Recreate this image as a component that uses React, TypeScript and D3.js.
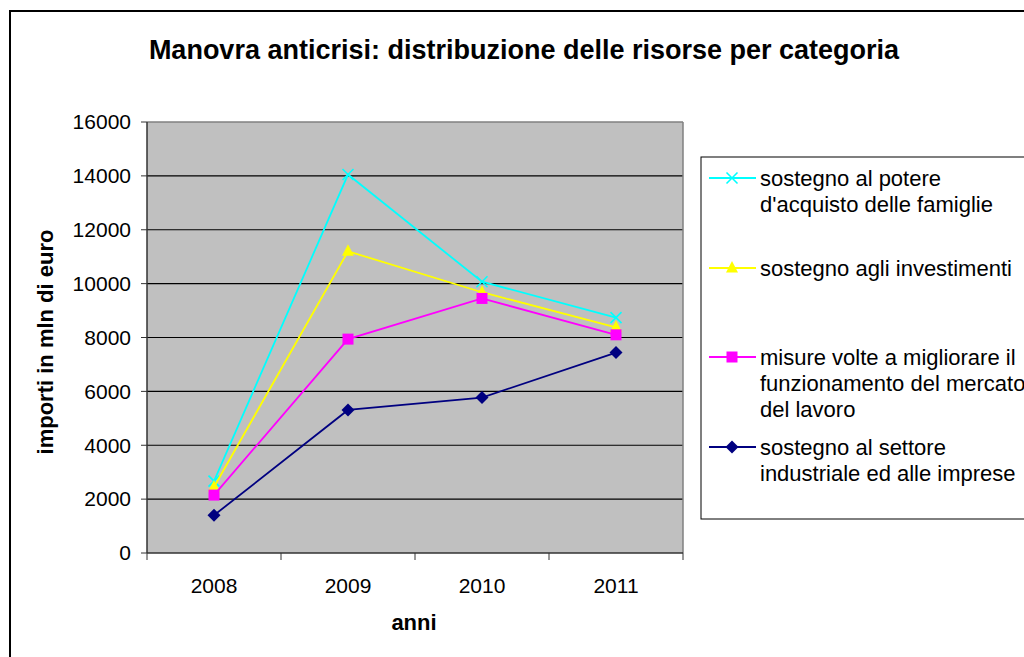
import React from "react";
import * as d3 from "d3";

const years = ["2008", "2009", "2010", "2011"];
const famiglie = [2670, 14050, 10070, 8740];
const investimenti = [2450, 11200, 9680, 8380];
const lavoro = [2150, 7940, 9450, 8100];
const industria = [1400, 5310, 5770, 7440];
const yTicks = [0, 2000, 4000, 6000, 8000, 10000, 12000, 14000, 16000];

const seriesNames = [
  ["sostegno al potere", "d'acquisto delle famiglie"],
  ["sostegno agli investimenti"],
  ["misure volte a migliorare il", "funzionamento del mercato", "del lavoro"],
  ["sostegno al settore", "industriale ed alle imprese"],
];
const seriesColors = ["#00FFFF", "#FFFF00", "#FF00FF", "#000080"];
const seriesMarkers = ["x", "triangle", "square", "diamond"];
const seriesData = [famiglie, investimenti, lavoro, industria];
const legendYs = [178, 268, 357, 447];

const FONT = "'Liberation Sans', Arial, sans-serif";

function Marker({ type, x, y, color }: { type: string; x: number; y: number; color: string }) {
  if (type === "x") {
    const s = 5.5;
    return (
      <g stroke={color} strokeWidth={1.6}>
        <line x1={x - s} y1={y - s} x2={x + s} y2={y + s} />
        <line x1={x - s} y1={y + s} x2={x + s} y2={y - s} />
      </g>
    );
  }
  if (type === "triangle") {
    return <path d={`M${x},${y - 7}L${x + 6},${y + 4.5}L${x - 6},${y + 4.5}Z`} fill={color} />;
  }
  if (type === "square") {
    return <rect x={x - 5.5} y={y - 5.5} width={11} height={11} fill={color} />;
  }
  return <path d={`M${x},${y - 6.5}L${x + 6.5},${y}L${x},${y + 6.5}L${x - 6.5},${y}Z`} fill={color} />;
}

export default function App() {
  const left = 147, right = 683, top = 122, bottom = 553;
  const x = d3.scaleBand().domain(years).range([left, right]);
  const y = d3.scaleLinear().domain([0, 16000]).range([bottom, top]);
  const cx = (d: string) => (x(d) as number) + x.bandwidth() / 2;
  const line = d3
    .line<number>()
    .x((_, i) => cx(years[i]))
    .y((v) => y(v));
  const bounds = [...years.map((d) => x(d) as number), right];

  return (
    <svg
      width={1024}
      height={657}
      style={{ position: "absolute", left: 0, top: 0, background: "#fff" }}
      fontFamily={FONT}
    >
      <rect x={10} y={11} width={1040} height={700} fill="#fff" stroke="#000" strokeWidth={2} />
      <text x={524} y={59} textAnchor="middle" fontWeight="bold" fontSize={27}>
        Manovra anticrisi: distribuzione delle risorse per categoria
      </text>
      <rect x={left} y={top} width={right - left} height={bottom - top} fill="#C0C0C0" />
      {yTicks.slice(1, -1).map((t) => (
        <line key={t} x1={left} x2={right} y1={y(t)} y2={y(t)} stroke="#000" strokeWidth={1.2} />
      ))}
      <line x1={left} x2={right} y1={top} y2={top} stroke="#808080" strokeWidth={1.5} />
      <line x1={right} x2={right} y1={top} y2={bottom} stroke="#808080" strokeWidth={1.5} />
      <line x1={left} x2={left} y1={top} y2={bottom} stroke="#333" strokeWidth={1.5} />
      <line x1={left} x2={right} y1={bottom} y2={bottom} stroke="#333" strokeWidth={1.5} />
      {yTicks.map((t) => (
        <g key={t}>
          <line x1={left - 6} x2={left} y1={y(t)} y2={y(t)} stroke="#333" strokeWidth={1} />
          <text x={left - 16} y={y(t)} dy="0.35em" textAnchor="end" fontSize={21}>
            {t}
          </text>
        </g>
      ))}
      {bounds.map((b) => (
        <line key={b} x1={b} x2={b} y1={bottom} y2={bottom + 7} stroke="#333" strokeWidth={1} />
      ))}
      {years.map((yr) => (
        <text key={yr} x={cx(yr)} y={593} textAnchor="middle" fontSize={21}>
          {yr}
        </text>
      ))}
      <text x={414} y={630} textAnchor="middle" fontWeight="bold" fontSize={22}>
        anni
      </text>
      <text
        transform={`translate(53,342) rotate(-90)`}
        textAnchor="middle"
        fontWeight="bold"
        fontSize={22}
      >
        importi in mln di euro
      </text>
      {seriesData.map((data, si) => (
        <g key={si}>
          <path d={line(data) || ""} fill="none" stroke={seriesColors[si]} strokeWidth={1.8} />
          {data.map((v, i) => (
            <Marker key={i} type={seriesMarkers[si]} x={cx(years[i])} y={y(v)} color={seriesColors[si]} />
          ))}
        </g>
      ))}
      <rect x={701} y={157} width={400} height={362} fill="#fff" stroke="#000" strokeWidth={1} />
      {seriesNames.map((lines, si) => (
        <g key={si}>
          <line x1={709} x2={756} y1={legendYs[si]} y2={legendYs[si]} stroke={seriesColors[si]} strokeWidth={1.8} />
          <Marker type={seriesMarkers[si]} x={732} y={legendYs[si]} color={seriesColors[si]} />
          {lines.map((l, li) => (
            <text key={li} x={760} y={legendYs[si] + li * 26} dy="0.35em" fontSize={22}>
              {l}
            </text>
          ))}
        </g>
      ))}
    </svg>
  );
}
